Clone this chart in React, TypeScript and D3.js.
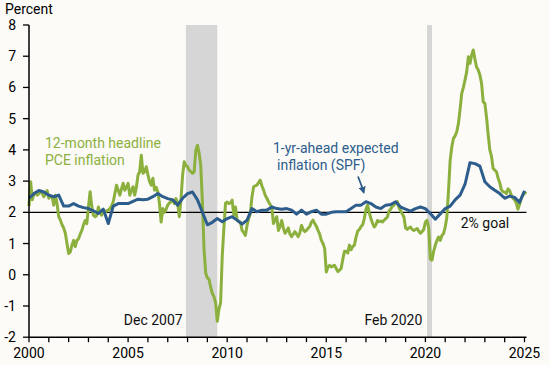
import React from "react";
import * as d3 from "d3";

// Monthly 12-month headline PCE inflation, Jan 2000 onward
const pce2000s: number[] = [
  2.2, 2.98, 2.4, 2.6, 2.6, 2.55, 2.6, 2.66, 2.6, 2.5, 2.6, 2.7,
  2.45, 2.5, 2.5, 2.23, 2.55, 2.28, 1.86, 1.75, 1.6, 1.5, 1.33, 1.0,
  0.68, 0.73, 0.95, 1.1, 0.9, 1.1, 1.15, 1.3, 1.42, 1.6, 1.74, 1.64,
  2.17, 2.66, 2.2, 1.91, 1.86, 1.9, 2.17, 2.0, 1.91, 2.02, 2.0, 2.05,
  2.07, 2.12, 2.2, 2.34, 2.6, 2.87, 2.71, 2.55, 2.75, 2.93, 2.71, 2.8,
  2.93, 2.55, 2.7, 2.82, 2.55, 2.8, 3.19, 3.3, 3.83, 3.25, 3.3, 3.46,
  3.2, 2.98, 2.87, 3.09, 2.71, 2.8, 2.66, 2.28, 1.69, 2.12, 2.0, 2.1,
  2.23, 2.3, 2.34, 2.4, 2.28, 2.44, 2.3, 1.86, 2.4, 3.19, 3.62, 3.5,
  3.46, 3.35, 3.3, 3.25, 3.3, 3.99, 4.15, 3.9, 3.5, 2.3, 0.8, 0.05,
  -0.1, -0.15, -0.4, -0.6, -0.7, -0.9, -1.49, -1.1, -0.9, 0.6, 1.5, 2.3,
];
const pce2010s: number[] = [
  2.33, 2.28, 2.3, 2.39, 1.91, 2.17, 1.75, 1.7, 1.69, 1.42, 1.35, 1.26,
  1.58, 1.8, 1.96, 2.5, 2.82, 2.85, 2.87, 2.95, 3.03, 2.85, 2.71, 2.55,
  2.45, 2.34, 2.25, 2.17, 1.64, 1.75, 1.86, 1.42, 1.55, 1.74, 1.5, 1.33,
  1.4, 1.5, 1.3, 1.22, 1.3, 1.38, 1.3, 1.22, 1.35, 1.58, 1.45, 1.38,
  1.42, 1.49, 1.55, 1.69, 1.75, 1.64, 1.55, 1.42, 1.3, 1.1, 1.0, 0.85,
  0.09, 0.25, 0.3, 0.25, 0.28, 0.3, 0.2, 0.1, 0.15, 0.2, 0.5, 0.75,
  0.75, 0.7, 0.95, 0.8, 0.9, 0.95, 1.2, 1.4, 1.45, 1.54, 1.6, 1.8,
  2.1, 2.23, 2.0, 1.8, 1.65, 1.53, 1.6, 1.74, 1.7, 1.72, 1.69, 1.75,
  1.8, 1.85, 2.05, 2.1, 2.2, 2.23, 2.3, 2.34, 2.15, 2.05, 1.95, 1.85,
  1.5, 1.45, 1.5, 1.53, 1.45, 1.42, 1.45, 1.48, 1.4, 1.33, 1.38, 1.45,
];
const pce2020s: number[] = [
  1.69, 1.74, 1.5, 0.5, 0.47, 0.75, 0.95, 1.1, 1.21, 1.1, 1.26, 1.32,
  1.53, 1.85, 2.7, 3.67, 4.1, 4.37, 4.45, 4.58, 4.85, 5.3, 5.81, 6.0,
  6.24, 6.5, 6.98, 6.77, 7.04, 7.2, 6.9, 6.65, 6.56, 6.4, 6.13, 5.54,
  5.49, 5.05, 4.5, 4.0, 3.8, 3.41, 3.35, 3.3, 3.1, 2.95, 2.72, 2.66,
  2.65, 2.6, 2.75, 2.7, 2.55, 2.45, 2.4, 2.3, 2.1, 2.25, 2.44, 2.55,
  2.6, 2.66,
];

// Quarterly SPF 1-yr-ahead expected inflation, 2000Q1 onward
const spf2000s: number[] = [
  2.45, 2.6, 2.7, 2.65, 2.55, 2.5, 2.55, 2.2, 2.2, 2.28, 2.2, 2.15,
  2.12, 2.05, 1.96, 2.1, 1.64, 2.2, 2.28, 2.28, 2.28, 2.35, 2.42, 2.4,
  2.42, 2.5, 2.6, 2.5, 2.44, 2.4, 2.23, 2.45, 2.6, 2.65, 2.4, 2.0,
  1.6, 1.68, 1.8, 1.7,
];
const spf2010s: number[] = [
  1.8, 1.86, 1.75, 1.62, 1.75, 2.12, 2.02, 2.07, 2.07, 2.17, 2.12, 2.1,
  2.12, 2.07, 1.94, 2.07, 1.94, 2.02, 2.07, 1.94, 1.94, 2.0, 2.02, 2.02,
  2.02, 2.12, 2.23, 2.23, 2.34, 2.28, 2.17, 2.12, 2.23, 2.25, 2.34, 2.17,
  2.1, 2.04, 2.12, 2.17,
];
const spf2020s: number[] = [
  2.12, 1.96, 1.78, 1.95, 2.12, 2.2, 2.4, 2.55, 2.9, 3.59, 3.56, 3.48,
  2.98, 2.82, 2.71, 2.6, 2.45, 2.52, 2.48, 2.32, 2.69,
];

const recessions: [number, number][] = [
  [2007 + 11 / 12, 2009 + 6 / 12],
  [2020 + 1 / 12, 2020 + 4 / 12],
];
const yTicks = [-2, -1, 0, 1, 2, 3, 4, 5, 6, 7, 8];
const xMajor = [2000, 2005, 2010, 2015, 2020, 2025];
const xMinor = d3.range(2000, 2026);

const W = 550;
const H = 365;
const GREEN = "#8cb03e";
const BLUE = "#2d5d8c";
const FONT = "Roboto, Arial, sans-serif";

export default function App() {
  const x = d3.scaleLinear().domain([2000, 2025]).range([29, 524.5]);
  const y = d3.scaleLinear().domain([-2, 8]).range([337.2, 25]);

  const pce = [...pce2000s, ...pce2010s, ...pce2020s].map((v, i) => ({ t: 2000 + i / 12, v }));
  const spf = [...spf2000s, ...spf2010s, ...spf2020s].map((v, i) => ({ t: 2000 + i / 4, v }));

  const line = d3
    .line<{ t: number; v: number }>()
    .x((d) => x(d.t))
    .y((d) => y(d.v))
    .curve(d3.curveLinear);

  const x0 = x(2000);
  const yBase = y(-2);

  return (
    <svg
      width={W}
      height={H}
      style={{ position: "absolute", left: 0, top: 0, background: "#fcfbf7" }}
      fontFamily={FONT}
    >
      <defs>
        <marker id="ah" viewBox="0 0 10 10" refX="8" refY="5" markerWidth="4" markerHeight="4" orient="auto">
          <path d="M0,0 L10,5 L0,10 z" fill={BLUE} />
        </marker>
      </defs>
      <rect x={0} y={0} width={W} height={H} fill="#fcfbf7" />
      {recessions.map(([a, b], i) => (
        <rect key={i} x={x(a)} y={y(8)} width={x(b) - x(a)} height={y(-2) - y(8)} fill="#d6d6d6" />
      ))}
      {/* 2% goal line */}
      <line x1={x0} x2={x(2025.1)} y1={y(2)} y2={y(2)} stroke="#000" strokeWidth={1.3} />
      <path d={line(pce) || ""} fill="none" stroke={GREEN} strokeWidth={3} strokeLinejoin="round" />
      <path d={line(spf) || ""} fill="none" stroke={BLUE} strokeWidth={3} strokeLinejoin="round" />

      {/* axes */}
      <line x1={x0} x2={x0} y1={y(8)} y2={yBase} stroke="#000" strokeWidth={1.5} />
      <line x1={x0} x2={x(2025.1)} y1={yBase} y2={yBase} stroke="#000" strokeWidth={1.5} />
      {yTicks.map((t) => (
        <g key={t}>
          <line x1={x0 - 6} x2={x0} y1={y(t)} y2={y(t)} stroke="#000" strokeWidth={1.3} />
          <text x={16} y={y(t)} dy="0.36em" textAnchor="end" fontSize={14} fill="#000">
            {t}
          </text>
        </g>
      ))}
      {xMinor.map((t) => (
        <line key={t} x1={x(t)} x2={x(t)} y1={yBase} y2={yBase + 5} stroke="#000" strokeWidth={1.3} />
      ))}
      {xMajor.map((t) => (
        <text key={t} x={x(t)} y={358} textAnchor="middle" fontSize={14} fill="#000">
          {t}
        </text>
      ))}
      <text x={5} y={13.5} fontSize={14} fill="#000">
        Percent
      </text>

      {/* annotations */}
      <text x={45} y={147.5} fontSize={14} fill={GREEN}>
        12-month headline
      </text>
      <text x={45} y={165} fontSize={14} fill={GREEN}>
        PCE inflation
      </text>
      <text x={273} y={152.7} fontSize={14} fill={BLUE}>
        1-yr-ahead expected
      </text>
      <text x={277} y={169.5} fontSize={14} fill={BLUE}>
        inflation (SPF)
      </text>
      <path d="M358,176.5 Q361.5,185 363.8,192.5" fill="none" stroke={BLUE} strokeWidth={1.8} markerEnd="url(#ah)" />
      <text x={182.7} y={325} textAnchor="end" fontSize={14} fill="#111">
        Dec 2007
      </text>
      <text x={422.3} y={325} textAnchor="end" fontSize={14} fill="#111">
        Feb 2020
      </text>
      <text x={460.7} y={228.3} fontSize={14} fill="#111">
        2% goal
      </text>
    </svg>
  );
}
